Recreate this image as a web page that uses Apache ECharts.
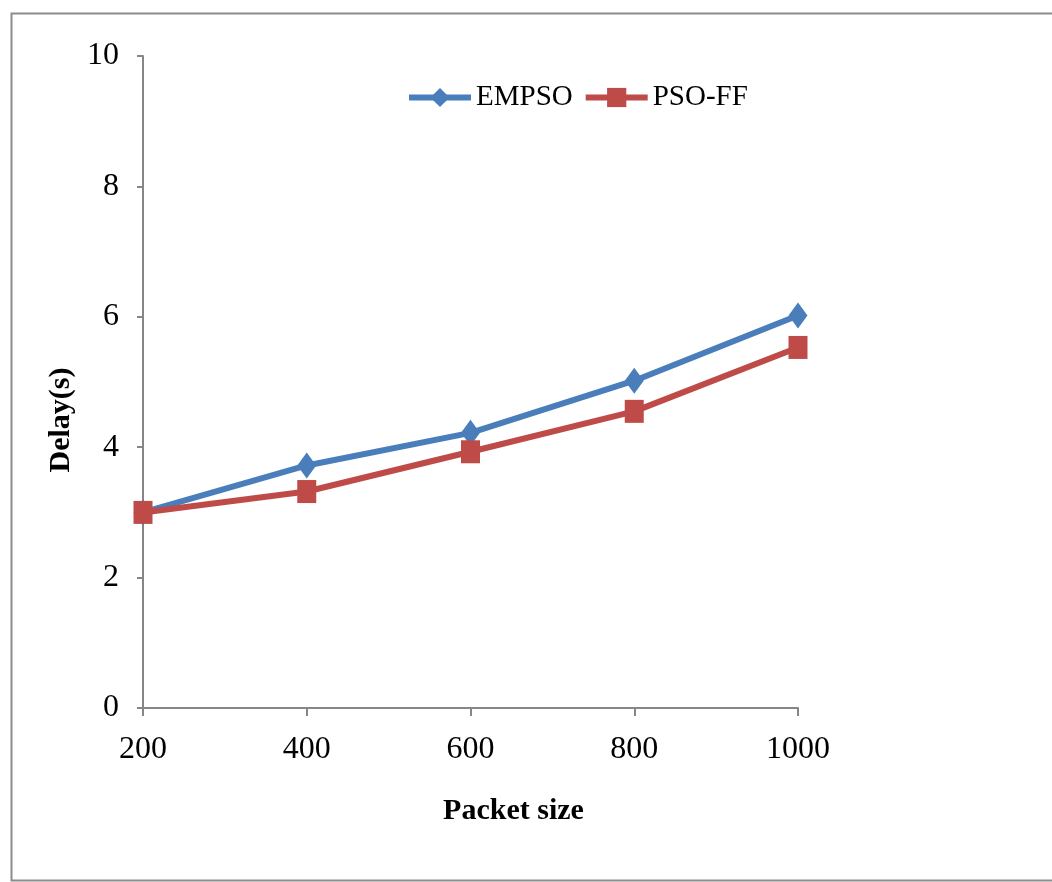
<!DOCTYPE html>
<html>
<head>
<meta charset="utf-8">
<script src="https://cdn.jsdelivr.net/npm/echarts@6/dist/echarts.min.js"></script>
<style>
html,body{margin:0;padding:0;background:#fff;}
#c{width:1052px;height:882px;}
</style>
</head>
<body>
<div id="c"></div>
<script>
const categories = ['200', '400', '600', '800', '1000'];
const empso = [3.0, 3.72, 4.22, 5.02, 6.02];
const psoff = [3.0, 3.32, 3.93, 4.55, 5.53];
const yTicks = { min: 0, max: 10, interval: 2 };

const chart = echarts.init(document.getElementById('c'));
const font = '"Liberation Serif","Times New Roman",serif';
const axisColor = '#868686';

chart.setOption({
  backgroundColor: '#ffffff',
  animation: false,
  graphic: [{
    type: 'rect',
    left: 9, top: 11,
    shape: { width: 1100, height: 867 },
    style: { fill: 'none', stroke: '#8c8c8c', lineWidth: 2 },
    z: -10
  }],
  legend: {
    left: 401,
    top: 78,
    itemWidth: 62,
    itemHeight: 24,
    itemGap: 10,
    lineStyle: { width: 6 },
    textStyle: { fontFamily: font, fontSize: 29, color: '#000' },
    data: ['EMPSO', 'PSO-FF']
  },
  grid: { left: 143, right: 254, top: 56, bottom: 174, containLabel: false },
  xAxis: {
    type: 'category',
    boundaryGap: false,
    data: categories,
    name: 'Packet size',
    nameLocation: 'middle',
    nameGap: 88,
    nameTextStyle: { fontFamily: font, fontSize: 30, fontWeight: 'bold', color: '#000', padding: [0, 0, 0, 86] },
    axisLine: { lineStyle: { color: axisColor, width: 2 } },
    axisTick: { show: true, length: 8, lineStyle: { color: axisColor, width: 2 }, alignWithLabel: true },
    axisLabel: { fontFamily: font, fontSize: 32, color: '#000', margin: 26 },
    splitLine: { show: false }
  },
  yAxis: {
    type: 'value',
    min: yTicks.min,
    max: yTicks.max,
    interval: yTicks.interval,
    name: 'Delay(s)',
    nameLocation: 'middle',
    nameGap: 62,
    nameRotate: 90,
    nameTextStyle: { fontFamily: font, fontSize: 30, fontWeight: 'bold', color: '#000', padding: [0, 76, 0, 0] },
    axisLine: { show: true, lineStyle: { color: axisColor, width: 2 } },
    axisTick: { show: true, length: 6, lineStyle: { color: axisColor, width: 2 } },
    axisLabel: { fontFamily: font, fontSize: 32, color: '#000', margin: 24 },
    splitLine: { show: false }
  },
  series: [
    {
      name: 'EMPSO',
      type: 'line',
      data: empso,
      symbol: 'diamond',
      symbolSize: [19, 26],
      color: '#4a7ebb',
      lineStyle: { width: 6, color: '#4a7ebb' },
      itemStyle: { color: '#4a7ebb' },
      z: 2
    },
    {
      name: 'PSO-FF',
      type: 'line',
      data: psoff,
      symbol: 'rect',
      symbolSize: [19, 23],
      color: '#be4b48',
      lineStyle: { width: 6, color: '#be4b48' },
      itemStyle: { color: '#be4b48' },
      z: 3
    }
  ]
});
</script>
</body>
</html>
